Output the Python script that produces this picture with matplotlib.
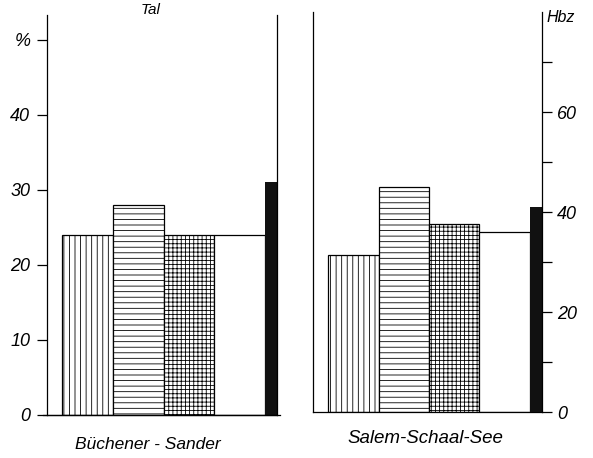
import matplotlib.pyplot as plt

# values
groups = ['Büchener - Sander', 'Salem-Schaal-See']
hatches = ['|||', '---', '++++', '']
left_pct = [24, 28, 24, 24]
left_black = 31
right_pct = [21, 30, 25, 24]
right_hbz = 41
pct_ticks = [0, 10, 20, 30, 40, 50]
pct_labels = ['0', '10', '20', '30', '40', '%']
hbz_major = [0, 20, 40, 60]
hbz_minor = [10, 30, 50, 70]

plt.rcParams['font.family'] = 'Liberation Sans'
plt.rcParams['font.style'] = 'italic'
plt.rcParams['hatch.linewidth'] = 0.6

fig = plt.figure(figsize=(5.93, 4.58), dpi=100)
ax1 = fig.add_axes([0.0793, 0.0939, 0.3879, 0.8734])
ax2 = fig.add_axes([0.5278, 0.1004, 0.3862, 0.8734])

xs = range(4)
for ax, vals, blk in [(ax1, left_pct, left_black), (ax2, right_pct, right_hbz)]:
    for x, v, h in zip(xs, vals, hatches):
        ax.bar(x, v, width=1.0, align='edge', facecolor='white',
               edgecolor='black', linewidth=0.9, hatch=h)
    ax.set_xlim(-0.3, 4.24)
    ax.set_ylim(0, 53.33)
    ax.set_xticks([])
    ax.spines['top'].set_visible(False)
    for s in ax.spines.values():
        s.set_linewidth(0.9)

# left panel: black bar on the % scale
ax1.bar(4.0, left_black, width=0.25, align='edge', color='#111111',
        clip_on=False)
ax1.set_yticks(pct_ticks)
ax1.set_yticklabels(pct_labels)
ax1.tick_params(axis='y', direction='out', length=7, width=0.9,
                pad=5, labelsize=13)
ax1.text(0.45, 1.0125, 'Tal', transform=ax1.transAxes, ha='center',
         va='center', fontsize=11)
ax1.text(0.44, -0.075, groups[0], transform=ax1.transAxes, ha='center',
         va='center', fontsize=12.5)
ax1.plot([-0.38, 4.3], [0, 0], color='black', lw=0.9, clip_on=False)

# right panel: black bar on the Hbz scale
ax2.set_yticks([])
ax2.spines['right'].set_visible(False)
tw = ax2.twinx()
tw.set_position(ax2.get_position())
tw.set_ylim(0, 80)
tw.bar(4.0, right_hbz, width=0.26, align='edge', color='#111111',
       clip_on=False)
tw.set_yticks(hbz_major)
tw.set_yticks(hbz_minor, minor=True)
tw.tick_params(axis='y', which='both', direction='out', length=7,
               width=0.9, pad=4, labelsize=13)
for s in ['top', 'left', 'bottom']:
    tw.spines[s].set_visible(False)
tw.spines['right'].set_linewidth(0.9)
tw.text(1.02, 0.985, 'Hbz', transform=tw.transAxes, ha='left',
        va='center', fontsize=11.5)
ax2.text(0.49, -0.065, groups[1], transform=ax2.transAxes, ha='center',
         va='center', fontsize=13.5)

plt.savefig('out.png', dpi=100)
